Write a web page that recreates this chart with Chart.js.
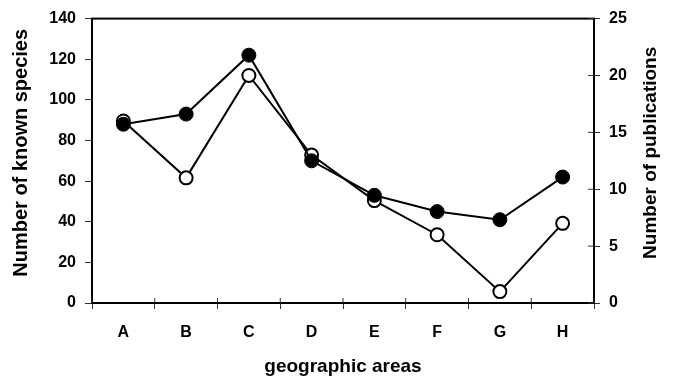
<!DOCTYPE html>
<html>
<head>
<meta charset="utf-8">
<script src="https://cdn.jsdelivr.net/npm/chart.js@4"></script>
<style>
  html, body { margin: 0; padding: 0; background: #fff; }
  #wrap { width: 673px; height: 378px; }
</style>
</head>
<body>
<div id="wrap"><canvas id="chart" width="673" height="378"></canvas></div>
<script>
// data
const areas = ['A', 'B', 'C', 'D', 'E', 'F', 'G', 'H'];
const knownSpecies = [88, 93, 122, 70, 53, 45, 41, 62];   // filled circles, left axis
const publications = [16, 11, 20, 13, 9, 6, 1, 7];        // open circles, right axis
const leftTitle = 'Number of known species';
const rightTitle = 'Number of publications';

const FONT = 'Liberation Sans, Arial, sans-serif';

// frame round the plot, inner half of the crossing ticks, and both y titles
// (both read bottom to top in the figure, Chart.js turns the right one the other way)
const framePlugin = {
    id: 'frame',
    afterDraw(chart) {
        const { ctx, chartArea: a, scales } = chart;
        ctx.save();
        ctx.strokeStyle = '#000';
        ctx.lineWidth = 2;
        ctx.strokeRect(a.left, a.top, a.right - a.left, a.bottom - a.top);

        ctx.lineWidth = 1;
        ctx.strokeStyle = '#333';
        ctx.beginPath();
        const xs = scales.x;
        for (let i = 0; i <= areas.length; i++) {
            const px = xs.left + (xs.right - xs.left) * i / areas.length;
            ctx.moveTo(px, a.bottom);
            ctx.lineTo(px, a.bottom - 5);
        }
        const y1 = scales.y1;
        y1.ticks.forEach((t, i) => {
            const py = y1.getPixelForTick(i);
            ctx.moveTo(a.right, py);
            ctx.lineTo(a.right - 6, py);
        });
        ctx.stroke();

        const midY = (a.top + a.bottom) / 2 - 8;
        ctx.fillStyle = '#000';
        ctx.textAlign = 'center';
        ctx.textBaseline = 'alphabetic';

        ctx.save();
        ctx.translate(27, midY);
        ctx.rotate(-Math.PI / 2);
        ctx.font = 'bold 20px ' + FONT;
        ctx.fillText(leftTitle, 0, 0);
        ctx.restore();

        ctx.save();
        ctx.translate(656, midY);
        ctx.rotate(-Math.PI / 2);
        ctx.font = 'bold 19px ' + FONT;
        ctx.fillText(rightTitle, 0, 0);
        ctx.restore();

        ctx.restore();
    }
};

new Chart(document.getElementById('chart'), {
    type: 'line',
    data: {
        labels: areas,
        datasets: [
            {
                label: leftTitle,
                data: knownSpecies,
                yAxisID: 'y',
                borderColor: '#000',
                borderWidth: 2,
                pointRadius: 7,
                pointBackgroundColor: '#000',
                pointBorderColor: '#000',
                pointBorderWidth: 1,
                tension: 0
            },
            {
                label: rightTitle,
                data: publications,
                yAxisID: 'y1',
                borderColor: '#000',
                borderWidth: 2,
                pointRadius: 6.5,
                pointBackgroundColor: '#fff',
                pointBorderColor: '#000',
                pointBorderWidth: 2,
                tension: 0
            }
        ]
    },
    options: {
        responsive: false,
        animation: false,
        layout: { padding: { top: 18, right: 0, left: 0, bottom: 0 } },
        plugins: { legend: { display: false }, tooltip: { enabled: false } },
        scales: {
            x: {
                offset: true,
                grid: { offset: true, drawOnChartArea: false, tickLength: 6, color: '#333' },
                border: { display: false },
                ticks: { color: '#000', padding: 14, font: { family: FONT, size: 16, weight: 'bold' } },
                title: {
                    display: true, text: 'geographic areas', color: '#000',
                    padding: { top: 12, bottom: 0 },
                    font: { family: FONT, size: 19, weight: 'bold' }
                },
                afterFit: (s) => { s.height = 75; }
            },
            y: {
                position: 'left',
                min: 0, max: 140,
                ticks: { stepSize: 20, color: '#000', padding: 9, font: { family: FONT, size: 16, weight: 'bold' } },
                grid: { drawOnChartArea: false, tickLength: 7, color: '#333' },
                border: { display: false },
                title: { display: false },
                afterFit: (s) => { s.width = 92; }
            },
            y1: {
                position: 'right',
                min: 0, max: 25,
                ticks: { stepSize: 5, color: '#000', padding: 9, font: { family: FONT, size: 16, weight: 'bold' } },
                grid: { drawOnChartArea: false, tickLength: 6, color: '#333' },
                border: { display: false },
                title: { display: false },
                afterFit: (s) => { s.width = 79; }
            }
        }
    },
    plugins: [framePlugin]
});
</script>
</body>
</html>
